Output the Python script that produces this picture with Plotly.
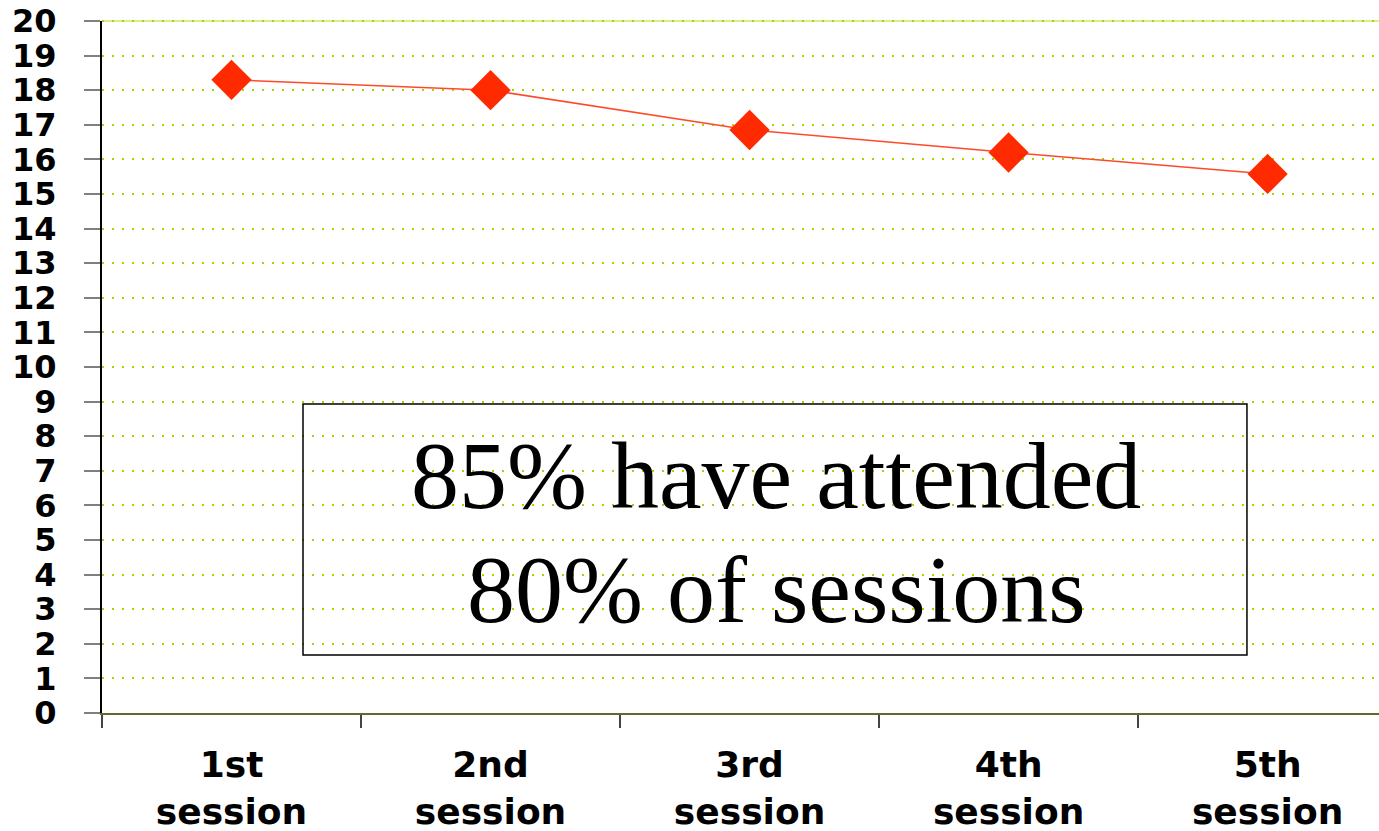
import plotly.graph_objects as go

sessions = ["1st<br>session", "2nd<br>session", "3rd<br>session", "4th<br>session", "5th<br>session"]
attendance = [18.3, 18.0, 16.85, 16.2, 15.58]
y_ticks = list(range(0, 21))
box_line1 = "85% have attended"
box_line2 = "80% of sessions"

fig = go.Figure()
fig.add_trace(go.Scatter(
    x=sessions, y=attendance, mode="lines+markers",
    line=dict(color="#FF4A2A", width=1.5),
    marker=dict(symbol="diamond", size=31, color="#FF2A00", line=dict(width=0)),
    showlegend=False, hoverinfo="skip",
))

fig.update_layout(
    width=1379, height=831,
    margin=dict(l=102, r=0, t=21, b=118, pad=0),
    plot_bgcolor="white", paper_bgcolor="white",
    xaxis=dict(
        type="category", range=[-0.5, 4.43],
        tickson="boundaries", ticks="outside", ticklen=13, tickwidth=2, tickcolor="#444444",
        showgrid=False, showline=True, linecolor="#5E6B2A", linewidth=2,
        tickfont=dict(family="DejaVu Sans", size=36, color="black", weight="bold"),
        ticklabelstandoff=19,
        zeroline=False,
    ),
    yaxis=dict(
        range=[0, 20], tickvals=y_ticks, ticktext=[str(v) for v in y_ticks],
        ticks="outside", ticklen=16, tickwidth=2, tickcolor="#808080",
        showgrid=True, gridcolor="#A8D400", gridwidth=2, griddash="2px,8px",
        showline=True, linecolor="black", linewidth=2,
        tickfont=dict(family="DejaVu Sans", size=32, color="black", weight="bold"),
        ticklabelstandoff=21,
        zeroline=False,
    ),
    font=dict(family="DejaVu Sans"),
)

# top border gridline (light solid + dots)
fig.add_shape(type="line", xref="paper", yref="paper", x0=0, x1=1, y0=1, y1=1,
              line=dict(color="#D6EE8C", width=2))
fig.add_shape(type="line", xref="paper", yref="paper", x0=0, x1=1, y0=1, y1=1,
              line=dict(color="#A8D400", width=2, dash="2px,8px"))

fig.add_shape(type="rect", xref="paper", yref="paper",
              x0=0.1574, x1=0.8966, y0=0.0838, y1=0.4465,
              line=dict(color="black", width=1.5), fillcolor="rgba(0,0,0,0)")

fig.add_annotation(text=box_line1, xref="paper", yref="paper", x=0.5278, y=0.343,
                   xanchor="center", yanchor="middle", showarrow=False,
                   font=dict(family="Liberation Serif", size=96, color="black"))
fig.add_annotation(text=box_line2, xref="paper", yref="paper", x=0.5278, y=0.178,
                   xanchor="center", yanchor="middle", showarrow=False,
                   font=dict(family="Liberation Serif", size=96, color="black"))

fig.write_html("out.html")
